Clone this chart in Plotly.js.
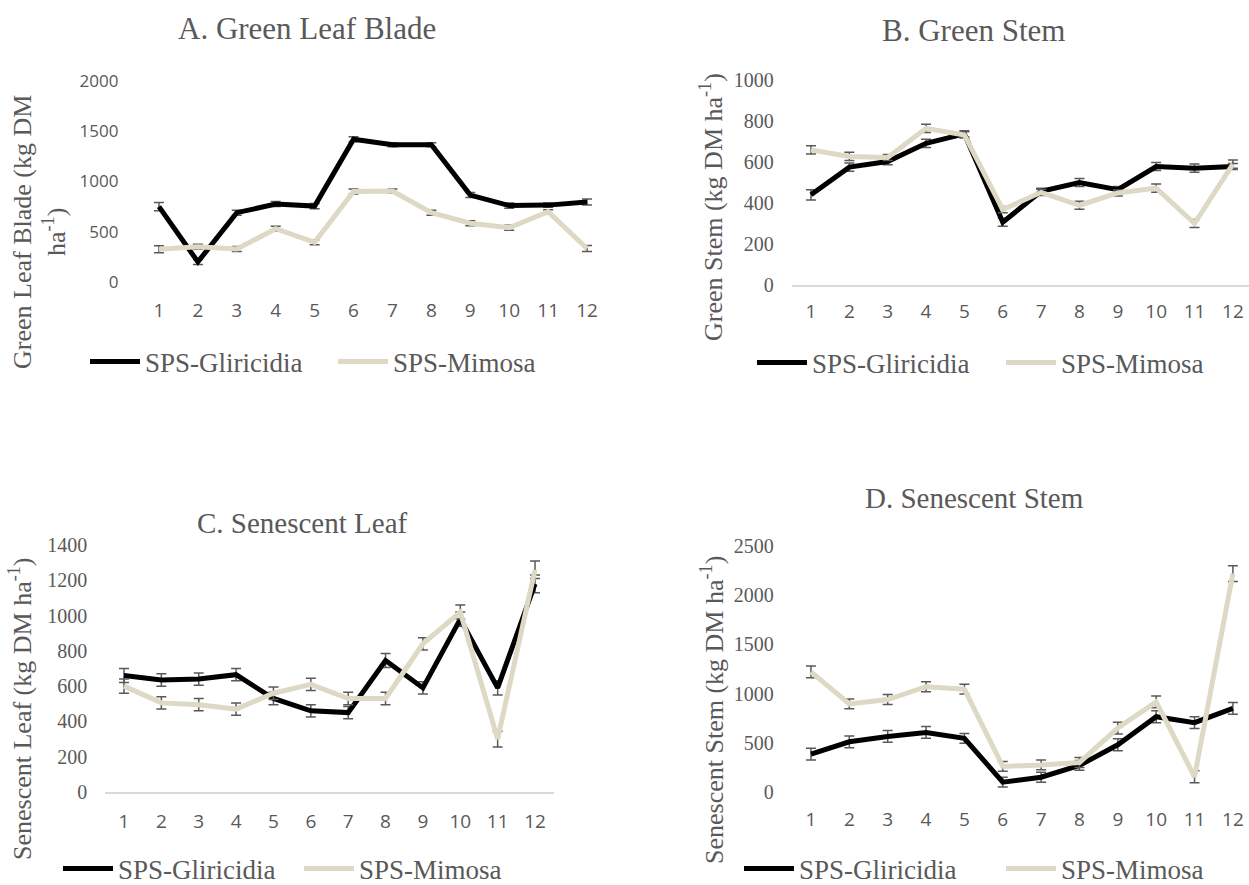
<!DOCTYPE html>
<html>
<head>
<meta charset="utf-8">
<script src="https://cdn.plot.ly/plotly-3.0.1.min.js"></script>
<style>
html,body{margin:0;padding:0;background:#fff;overflow:hidden;width:1249px;height:885px;}
#chart{width:1249px;height:885px;overflow:hidden;}
</style>
</head>
<body>
<div id="chart"></div>
<script>
// ---- Data ----
var months = [1,2,3,4,5,6,7,8,9,10,11,12];
var seriesNames = ["SPS-Gliricidia", "SPS-Mimosa"];

// A. Green Leaf Blade
var leafBladeGliricidia = [750, 200, 690, 775, 755, 1420, 1365, 1365, 865, 760, 765, 795];
var leafBladeMimosa     = [325, 350, 328, 530, 395, 900, 905, 690, 585, 540, 700, 333];
var leafBladeGliricidiaErr = [40, 25, 25, 25, 25, 25, 20, 20, 25, 25, 20, 30];
var leafBladeMimosaErr     = [35, 25, 25, 25, 25, 25, 20, 25, 25, 25, 20, 30];

// B. Green Stem
var stemGliricidia = [440, 575, 602, 691, 737, 306, 457, 500, 465, 578, 570, 578];
var stemMimosa     = [659, 627, 622, 764, 732, 368, 452, 389, 449, 473, 300, 590];
var stemGliricidiaErr = [25, 20, 15, 20, 15, 20, 15, 20, 15, 20, 20, 15];
var stemMimosaErr     = [20, 20, 15, 20, 15, 15, 15, 20, 15, 20, 20, 20];

// C. Senescent Leaf
var senLeafGliricidia = [660, 635, 640, 665, 530, 460, 450, 745, 590, 980, 590, 1180];
var senLeafMimosa     = [600, 505, 495, 470, 560, 610, 530, 530, 840, 1020, 300, 1260];
var senLeafGliricidiaErr = [40, 35, 35, 35, 35, 35, 35, 40, 35, 40, 40, 50];
var senLeafMimosaErr     = [40, 35, 35, 35, 35, 35, 35, 35, 35, 40, 45, 50];

// D. Senescent Stem
var senStemGliricidia = [385, 510, 565, 605, 545, 100, 150, 270, 480, 765, 705, 850];
var senStemMimosa     = [1220, 895, 940, 1070, 1045, 260, 275, 300, 650, 915, 155, 2220];
var senStemGliricidiaErr = [60, 60, 60, 60, 50, 50, 50, 50, 60, 60, 60, 60];
var senStemMimosaErr     = [60, 50, 50, 50, 50, 50, 50, 50, 60, 60, 60, 80];

var panelTitles = ["A. Green Leaf Blade", "B. Green Stem", "C. Senescent Leaf", "D. Senescent Stem"];
var yTitles = ["Green Leaf Blade (kg DM<br>ha<sup>-1</sup>)", "Green Stem (kg DM ha<sup>-1</sup>)",
               "Senescent Leaf (kg DM ha<sup>-1</sup>)", "Senescent Stem (kg DM ha<sup>-1</sup>)"];

// ---- Layout helpers ----
var W = 1249, H = 885;
function px(x){ return x / W; }
function py(y){ return 1 - y / H; }

var GRAY = "#595959";
var SERIF = "Liberation Serif, Times New Roman, serif";
var SANS = "Open Sans, Arial, sans-serif";
var colors = ["#000000", "#DDD9C4"];

var panels = [
  {g: leafBladeGliricidia, m: leafBladeMimosa, ge: leafBladeGliricidiaErr, me: leafBladeMimosaErr,
   xd: [139.5, 606.5], yd: [81, 282], yr: [0, 2000], dt: 500, xr: [0.5, 12.5], yfont: SANS, ysize: 17, yst: 20, xst: 15, baseline: false},
  {g: stemGliricidia, m: stemMimosa, ge: stemGliricidiaErr, me: stemMimosaErr,
   xd: [791.8, 1249], yd: [80, 285], yr: [0, 1000], dt: 200, xr: [0.5, 12.42], yfont: SERIF, ysize: 20, yst: 17, xst: 8, baseline: true},
  {g: senLeafGliricidia, m: senLeafMimosa, ge: senLeafGliricidiaErr, me: senLeafMimosaErr,
   xd: [105.3, 553.7], yd: [545, 792], yr: [0, 1400], dt: 200, xr: [0.5, 12.5], yfont: SERIF, ysize: 20, yst: 17, xst: 11, baseline: true},
  {g: senStemGliricidia, m: senStemMimosa, ge: senStemGliricidiaErr, me: senStemMimosaErr,
   xd: [791.8, 1249], yd: [546, 792], yr: [0, 2500], dt: 500, xr: [0.5, 12.42], yfont: SERIF, ysize: 20, yst: 17, xst: 14, baseline: false}
];

var legendPos = [ {x: 85, y: 362, ew: 183}, {x: 752, y: 363, ew: 184}, {x: 58, y: 869, ew: 176}, {x: 739, y: 869, ew: 197} ];
var titlePos = [ {x: 307, y: 29, s: 31}, {x: 973, y: 30, s: 31}, {x: 302, y: 523, s: 29}, {x: 974, y: 498, s: 29} ];
var yTitlePos = [ {x: 40, y: 232}, {x: 712, y: 207}, {x: 20, y: 709}, {x: 712, y: 710} ];

var data = [];
var layout = {
  width: W, height: H,
  margin: {l: 0, r: 0, t: 0, b: 0, autoexpand: false},
  paper_bgcolor: "#ffffff", plot_bgcolor: "rgba(0,0,0,0)",
  showlegend: true,
  annotations: []
};

panels.forEach(function(p, i){
  var n = i + 1;
  var xa = n === 1 ? "x" : "x" + n;
  var ya = n === 1 ? "y" : "y" + n;
  var lg = n === 1 ? "legend" : "legend" + n;
  [[p.g, p.ge], [p.m, p.me]].forEach(function(s, k){
    data.push({
      type: "scatter", mode: "lines",
      x: months, y: s[0],
      name: seriesNames[k],
      xaxis: xa, yaxis: ya, legend: lg,
      line: {color: colors[k], width: 5},
      error_y: {type: "data", array: s[1], visible: true, color: GRAY, thickness: 1.5, width: 5},
      hoverinfo: "x+y+name"
    });
  });
  layout[n === 1 ? "xaxis" : "xaxis" + n] = {
    domain: [px(p.xd[0]), px(p.xd[1])],
    range: p.xr, anchor: ya,
    tickmode: "array", tickvals: months, ticktext: months.map(String),
    showgrid: false, zeroline: false,
    showline: p.baseline, linecolor: "#d9d9d9", linewidth: 1.5,
    ticks: "", ticklabelstandoff: p.xst,
    tickfont: {family: SANS, size: 19, color: GRAY},
    automargin: false,
    fixedrange: true
  };
  layout[n === 1 ? "yaxis" : "yaxis" + n] = {
    domain: [py(p.yd[1]), py(p.yd[0])],
    range: p.yr, anchor: xa,
    dtick: p.dt, tick0: 0,
    showgrid: false, zeroline: false, showline: false,
    ticks: "", ticklabelstandoff: p.yst,
    tickfont: {family: p.yfont, size: p.ysize, color: GRAY},
    automargin: false,
    fixedrange: true
  };
  layout[lg] = {
    orientation: "h",
    x: px(legendPos[i].x), y: py(legendPos[i].y),
    xanchor: "left", yanchor: "middle",
    bgcolor: "rgba(0,0,0,0)",
    font: {family: SERIF, size: 27, color: GRAY},
    itemwidth: 50,
    entrywidthmode: "pixels", entrywidth: legendPos[i].ew,
    itemclick: false, itemdoubleclick: false
  };
  layout.annotations.push({
    text: panelTitles[i], showarrow: false,
    xref: "paper", yref: "paper",
    x: px(titlePos[i].x), y: py(titlePos[i].y),
    xanchor: "center", yanchor: "middle",
    font: {family: SERIF, size: titlePos[i].s, color: GRAY}
  });
  layout.annotations.push({
    text: yTitles[i], showarrow: false, textangle: -90,
    xref: "paper", yref: "paper",
    x: px(yTitlePos[i].x), y: py(yTitlePos[i].y),
    xanchor: "center", yanchor: "middle",
    font: {family: SERIF, size: 26, color: GRAY}
  });
});

Plotly.newPlot("chart", data, layout, {displayModeBar: false});
</script>
</body>
</html>
